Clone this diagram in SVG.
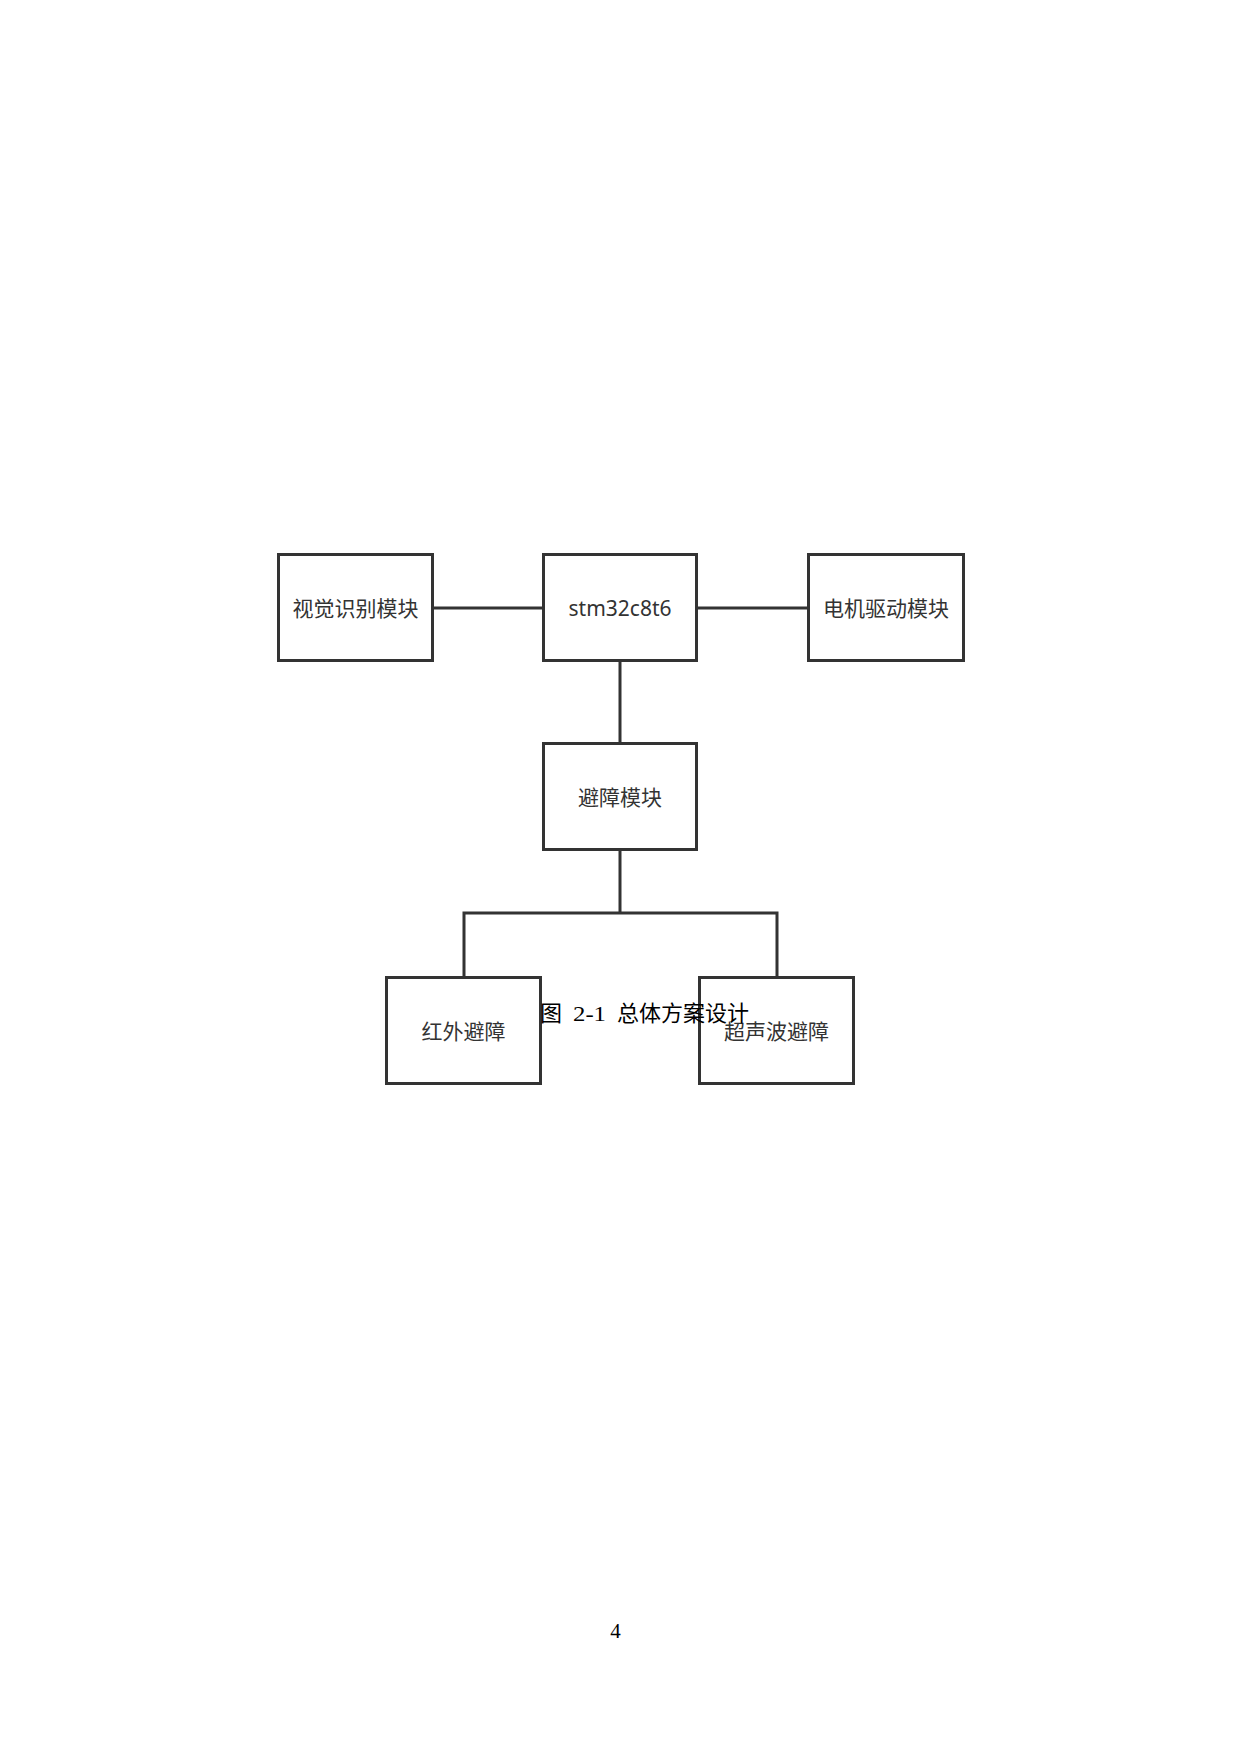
<svg xmlns="http://www.w3.org/2000/svg" width="1240" height="1754" viewBox="0 0 1240 1754">
<style>
.box{fill:#fff;stroke:#333;stroke-width:3}
.lbl{font-family:"Noto Sans","Noto Sans CJK SC",sans-serif;font-size:21px;fill:#333;text-anchor:middle;dominant-baseline:central}
.con{fill:none;stroke:#333;stroke-width:3}
.cap{font-family:"Liberation Serif","Noto Sans CJK SC",serif;font-size:22px;fill:#000}
</style>
<rect width="1240" height="1754" fill="#fff"/>
<g id="connectors">
<line class="con" x1="433" y1="608" x2="543" y2="608"/>
<line class="con" x1="697" y1="608" x2="808" y2="608"/>
<line class="con" x1="620" y1="661" x2="620" y2="743"/>
<line class="con" x1="620" y1="850" x2="620" y2="913"/>
<polyline class="con" points="464,977 464,913 777,913 777,977"/>
</g>
<g id="node-vision">
<rect class="box" x="278.5" y="554.5" width="154" height="106"/>
<text class="lbl" x="355.5" y="608">视觉识别模块</text>
</g>
<g id="node-mcu">
<rect class="box" x="543.5" y="554.5" width="153" height="106"/>
<text class="lbl" x="620" y="608">stm32c8t6</text>
</g>
<g id="node-motor">
<rect class="box" x="808.5" y="554.5" width="155" height="106"/>
<text class="lbl" x="886" y="608">电机驱动模块</text>
</g>
<g id="node-avoid">
<rect class="box" x="543.5" y="743.5" width="153" height="106"/>
<text class="lbl" x="620" y="797">避障模块</text>
</g>
<g id="node-ir">
<rect class="box" x="386.5" y="977.5" width="154" height="106"/>
<text class="lbl" x="463.5" y="1031">红外避障</text>
</g>
<g id="node-ultra">
<rect class="box" x="699.5" y="977.5" width="154" height="106"/>
<text class="lbl" x="776.5" y="1031">超声波避障</text>
</g>
<g id="caption">
<text class="cap" x="540" y="1021">图</text>
<text class="cap" x="573" y="1021" textLength="33" lengthAdjust="spacingAndGlyphs">2-1</text>
<text class="cap" x="617" y="1021">总体方案设计</text>
</g>
<text x="615.5" y="1638" font-family="Liberation Serif, serif" font-size="21" text-anchor="middle" fill="#000">4</text>
</svg>
